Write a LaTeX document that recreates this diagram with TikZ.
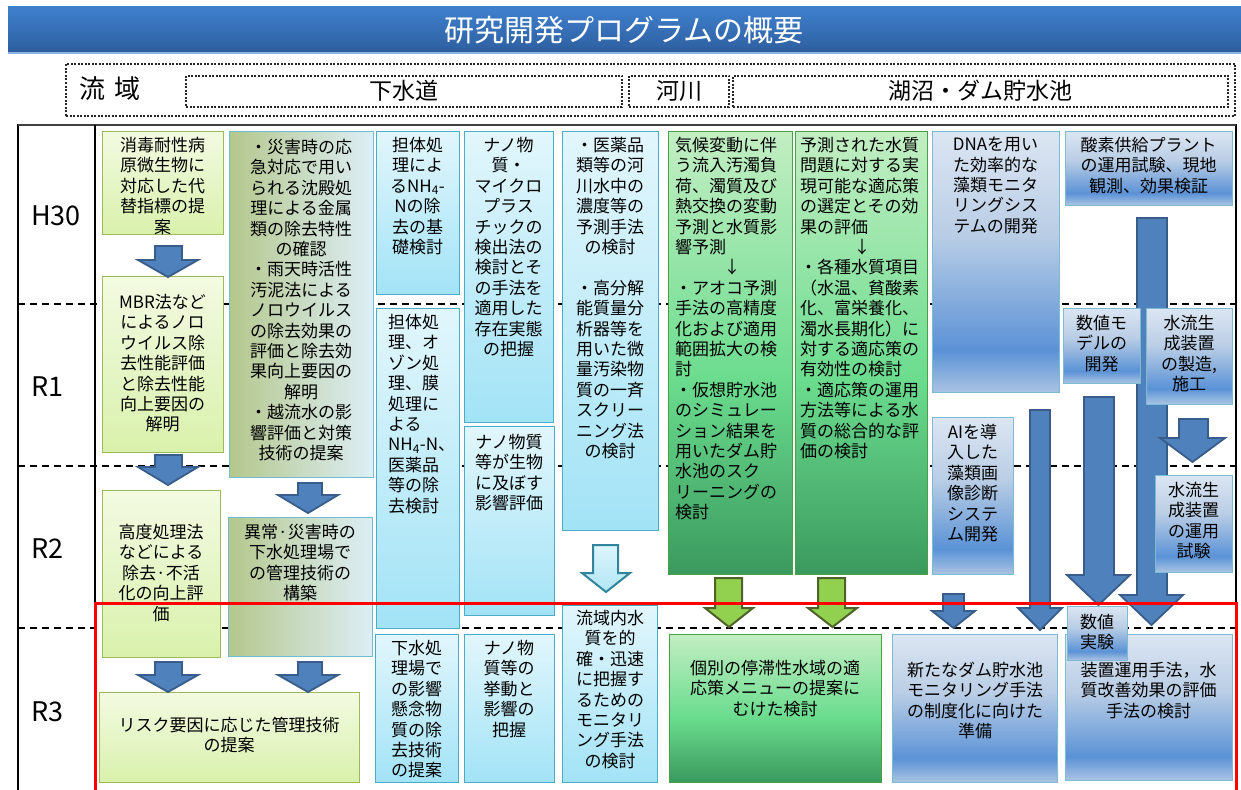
\documentclass[tikz,border=0pt]{standalone}
\usepackage{fontspec}
\setmainfont{Noto Sans CJK JP}
\definecolor{hdrT}{HTML}{3F80CE}
\definecolor{hdrB}{HTML}{2D5E9E}
\definecolor{hdrL}{HTML}{8DB3E2}
\definecolor{lgT}{HTML}{F3FAE2}
\definecolor{lgB}{HTML}{D9F1AC}
\definecolor{lgD}{HTML}{9BBB59}
\definecolor{olv}{HTML}{B4C78C}
\definecolor{pbl}{HTML}{DDEEF6}
\definecolor{cyT}{HTML}{E2F6FC}
\definecolor{cyB}{HTML}{A2E3F6}
\definecolor{cyD}{HTML}{4BACC6}
\definecolor{gT}{HTML}{C3EEC3}
\definecolor{gM}{HTML}{6BDC8E}
\definecolor{gB}{HTML}{3A9A5E}
\definecolor{gD}{HTML}{48A048}
\definecolor{bT}{HTML}{DCE6F2}
\definecolor{bU}{HTML}{B9CDE5}
\definecolor{bM}{HTML}{5B92D6}
\definecolor{bL}{HTML}{A9C3E3}
\definecolor{bD}{HTML}{7DBBD2}
\definecolor{arF}{HTML}{4F81BD}
\definecolor{arD}{HTML}{385D8A}
\definecolor{agF}{HTML}{92D050}
\definecolor{agD}{HTML}{4F6228}
\definecolor{acD}{HTML}{31849B}
\definecolor{acT}{HTML}{DDF5FB}
\definecolor{acB}{HTML}{B0E6F4}
\pgfdeclareverticalshading{grnsh}{100bp}{color(0bp)=(gB); color(25bp)=(gB); color(47bp)=(gM); color(75bp)=(gT); color(100bp)=(gT)}
\pgfdeclareverticalshading{blush}{100bp}{color(0bp)=(bL); color(25bp)=(bL); color(33bp)=(bM); color(55bp)=(bU); color(75bp)=(bT); color(100bp)=(bT)}
\newcommand{\bx}[6]{\pgfmathsetmacro\bxw{#5-#3}\pgfmathsetmacro\bxh{#6-#4}%
  \node[#1,anchor=north west,minimum width=\bxw pt,minimum height=\bxh pt] (#2) at (#3,#4) {};}
\newcommand{\dnarrow}[8]{\draw[#1] (#2,#4) -- (#3,#4) -- (#3,#5) -- (#7,#5) -- ({(#6+#7)/2},#8) -- (#6,#5) -- (#2,#5) -- cycle;}
\tikzset{
  txt/.style={inner sep=0pt, font=\fontsize{17}{20.4}\selectfont, align=center, text=black, anchor=north},
  ltxt/.style={inner sep=0pt, font=\fontsize{17}{20.4}\selectfont, align=left, text=black, anchor=north west},
  basebox/.style={inner sep=0pt, outer sep=0pt, line width=1pt, rectangle},
  lgbox/.style={basebox, draw=lgD, top color=lgT, bottom color=lgB},
  olbox/.style={basebox, draw=cyD!80, left color=olv, right color=pbl},
  cybox/.style={basebox, draw=cyD, top color=cyT, bottom color=cyB},
  grbox/.style={basebox, draw=gD, shade, shading=grnsh},
  blbox/.style={basebox, draw=bD, shade, shading=blush},
  barrow/.style={fill=arF, draw=arD, line width=1.8pt},
  garrow/.style={fill=agF, draw=agD, line width=2pt},
  carrow/.style={top color=acT, bottom color=acB, draw=acD, line width=2pt},
  sepline/.style={dash pattern=on 7pt off 5pt, line width=1.2pt},
  dotbox/.style={basebox, draw=black!85, line width=2pt, dash pattern=on 2pt off 1.5pt},
  rowlab/.style={font=\fontsize{27}{30}\selectfont, anchor=west, inner sep=0pt},
  domlab/.style={font=\fontsize{23}{26}\selectfont, inner sep=0pt},
}
\begin{document}
\begin{tikzpicture}[x=1pt,y=-1pt]
\useasboundingbox (0,0) rectangle (1241,789);
\clip (0,0) rectangle (1241,789);
% header
\bx{basebox, top color=hdrT, bottom color=hdrB}{hdr}{8}{7}{1245}{53}
\draw[color=hdrL, line width=1.5pt] (hdr.south west) -- (hdr.south east);
\node[font=\fontsize{30}{36}\selectfont, text=white, inner sep=0pt] (title) at (624,30) {研究開発プログラムの概要};
% domain row
\bx{dotbox}{dom}{66}{64}{1235}{116}
\node[font=\fontsize{26}{30}\selectfont, anchor=west, inner sep=0pt] (ryuiki) at (79,89) {流\hspace{9pt}域};
\bx{dotbox}{gesui}{186}{76}{622}{107}
\bx{dotbox}{kasen}{629}{76}{729}{107}
\bx{dotbox}{kosho}{733}{76}{1228}{107}
\node[domlab] (gesuit) at (404,91) {下水道};
\node[domlab] (kasent) at (679,91) {河川};
\node[domlab] (kosht) at (980,91) {湖沼・ダム貯水池};
% table
\draw[line width=1.2pt] (18,800) -- (18,125) -- (1236,125) -- (1236,800);
\draw[line width=2pt, black!75] (18,125) -- (1236,125);
\draw[line width=1.2pt] (95,125) -- (95,800);
\draw[sepline] (18,304) -- (1236,304);
\draw[sepline] (18,466) -- (1236,466);
\draw[sepline] (18,628) -- (1236,628);
\node[rowlab] (h30) at (31,216) {H30};
\node[rowlab] (r1) at (31,387) {R1};
\node[rowlab] (r2) at (31,549) {R2};
\node[rowlab] (r3) at (31,712) {R3};
% long arrows (behind boxes)
\dnarrow{barrow}{1137}{1167}{218}{595}{1120}{1183}{625}
\dnarrow{barrow}{1084}{1114}{397}{575}{1067}{1130}{605}
\dnarrow{barrow}{1030}{1050}{410}{608}{1018}{1062}{630}
% column 1
\bx{lgbox}{A1}{102}{131}{223}{234}
\node[txt] (A1t) at (162.5,137) {消毒耐性病\\原微生物に\\対応した代\\替指標の提\\案};
\bx{lgbox}{A2}{102}{276}{223}{452}
\node[txt] (A2t) at (162.5,294) {MBR法など\\によるノロ\\ウイルス除\\去性能評価\\と除去性能\\向上要因の\\解明};
\bx{lgbox}{A3}{102}{490}{220}{657}
\node[txt] (A3t) at (161,524) {高度処理法\\などによる\\除去·不活\\化の向上評\\価};
\bx{lgbox}{A4}{99}{692}{359}{782}
\node[txt] (A4t) at (229,717) {リスク要因に応じた管理技術\\の提案};
% column 2
\bx{olbox}{B1}{229}{131}{373}{477}
\node[txt] (B1t) at (301,139) {・災害時の応\\急対応で用い\\られる沈殿処\\理による金属\\類の除去特性\\の確認\\・雨天時活性\\汚泥法による\\ノロウイルス\\の除去効果の\\評価と除去効\\果向上要因の\\解明\\・越流水の影\\響評価と対策\\技術の提案};
\bx{olbox}{B2}{228}{517}{372}{656}
\node[txt] (B2t) at (300,524) {異常·災害時の\\下水処理場で\\の管理技術の\\構築};
% column 3
\bx{cybox}{C1}{376}{131}{459}{294}
\node[txt] (C1t) at (417.5,137) {担体処\\理によ\\るNH\textsubscript{4}-\\Nの除\\去の基\\礎検討};
\bx{cybox}{C2}{376}{308}{459}{628}
\node[ltxt] (C2t) at (388,314) {担体処\\理、オ\\ゾン処\\理、膜\\処理に\\よる\\NH\textsubscript{4}-N、\\医薬品\\等の除\\去検討};
\bx{cybox}{C3}{375}{634}{458}{782}
\node[txt] (C3t) at (416.5,640) {下水処\\理場で\\の影響\\懸念物\\質の除\\去技術\\の提案};
% column 4
\bx{cybox}{D1}{464}{131}{553}{422}
\node[txt] (D1t) at (508.5,137) {ナノ物\\質・\\マイクロ\\プラス\\チックの\\検出法の\\検討とそ\\の手法を\\適用した\\存在実態\\の把握};
\bx{cybox}{D2}{464}{426}{554}{615}
\node[txt] (D2t) at (509,434) {ナノ物質\\等が生物\\に及ぼす\\影響評価};
\bx{cybox}{D3}{464}{634}{554}{782}
\node[txt] (D3t) at (509,640) {ナノ物\\質等の\\挙動と\\影響の\\把握};
% column 5
\bx{cybox}{E1}{562}{131}{658}{530}
\node[txt] (E1t) at (610,137) {・医薬品\\類等の河\\川水中の\\濃度等の\\予測手法\\の検討\\[20.4pt]・高分解\\能質量分\\析器等を\\用いた微\\量汚染物\\質の一斉\\スクリー\\ニング法\\の検討};
\bx{cybox}{E2}{562}{605}{657}{782}
\node[txt] (E2t) at (610,610) {流域内水\\質を的\\確・迅速\\に把握す\\るための\\モニタリ\\ング手法\\の検討};
% column 6
\bx{grbox}{F1}{668}{131}{792}{574}
\node[ltxt] (F1t) at (675,137) {気候変動に伴\\う流入汚濁負\\荷、濁質及び\\熱交換の変動\\予測と水質影\\響予測\\\makebox[114pt]{↓}\\・アオコ予測\\手法の高精度\\化および適用\\範囲拡大の検\\討\\・仮想貯水池\\のシミュレー\\ション結果を\\用いたダム貯\\水池のスク\\リーニングの\\検討};
\bx{grbox}{F2}{795}{131}{927}{574}
\node[ltxt] (F2t) at (800,137) {予測された水質\\問題に対する実\\現可能な適応策\\の選定とその効\\果の評価\\\makebox[124pt]{↓}\\・各種水質項目\\（水温、貧酸素\\化、富栄養化、\\濁水長期化）に\\対する適応策の\\有効性の検討\\・適応策の運用\\方法等による水\\質の総合的な評\\価の検討};
\bx{grbox}{F3}{669}{634}{881}{782}
\node[txt] (F3t) at (775,660) {個別の停滞性水域の適\\応策メニューの提案に\\むけた検討};
% column 7
\bx{blbox}{G1}{932}{131}{1059}{392}
\node[txt] (G1t) at (995.5,137) {DNAを用い\\た効率的な\\藻類モニタ\\リングシス\\テムの開発};
\bx{blbox}{G2}{932}{417}{1013}{574}
\node[txt] (G2t) at (972.5,424) {AIを導\\入した\\藻類画\\像診断\\システ\\ム開発};
\bx{blbox}{G3}{892}{634}{1057}{782}
\node[txt] (G3t) at (975,662) {新たなダム貯水池\\モニタリング手法\\の制度化に向けた\\準備};
% column 8
\bx{blbox}{H1}{1065}{131}{1232}{205}
\node[txt] (H1t) at (1148.5,137) {酸素供給プラント\\の運用試験、現地\\観測、効果検証};
\bx{blbox}{H2}{1063}{308}{1140}{383}
\node[txt] (H2t) at (1101.5,315) {数値モ\\デルの\\開発};
\bx{blbox}{H3}{1146}{308}{1232}{404}
\node[txt] (H3t) at (1189,315) {水流生\\成装置\\の製造,\\施工};
\bx{blbox}{H4}{1155}{475}{1232}{572}
\node[txt] (H4t) at (1193.5,482) {水流生\\成装置\\の運用\\試験};
\bx{blbox}{H6}{1065}{634}{1232}{780}
\node[txt] (H6t) at (1148.5,662) {装置運用手法，水\\質改善効果の評価\\手法の検討};
% small arrows
\dnarrow{barrow}{155}{182}{246}{260}{138}{198}{277}
\dnarrow{barrow}{155}{182}{455}{467}{138}{198}{485}
\dnarrow{barrow}{155}{182}{662}{675}{138}{198}{692}
\dnarrow{barrow}{298}{322}{483}{495}{278}{338}{513}
\dnarrow{barrow}{298}{322}{662}{675}{278}{338}{692}
\dnarrow{carrow}{593}{618}{545}{573}{582}{630}{592}
\dnarrow{garrow}{715}{742}{578}{608}{705}{753}{627}
\dnarrow{garrow}{818}{845}{578}{608}{808}{857}{627}
\dnarrow{barrow}{943}{964}{594}{611}{932}{975}{628}
\dnarrow{barrow}{1179}{1208}{419}{438}{1160}{1225}{462}
% numeric experiment box on top
\bx{blbox}{H5}{1067}{606}{1127}{660}
\node[txt] (H5t) at (1097,614) {数値\\実験};
% red frame
\draw[red, line width=3pt] (95,603) rectangle (1236,800);
\end{tikzpicture}
\end{document}
